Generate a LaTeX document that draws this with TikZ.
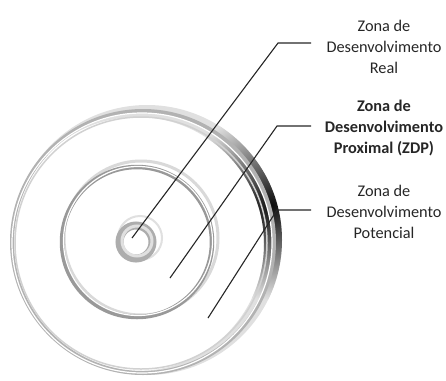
\documentclass[tikz,border=0pt]{standalone}
\usepackage{fontspec}
\setmainfont{Carlito}
\begin{document}
\begin{tikzpicture}[x=1pt,y=-1pt,
  lbl/.style={align=center,font=\fontsize{16.3}{21}\selectfont,text=black!85,inner sep=0pt},
  lead/.style={draw=black!85,line width=1.1pt}]
\useasboundingbox (0,0) rectangle (446,380);
% outer disc
\fill[white] (145,241) circle (134pt);
% shadow crescent on the right
\begin{scope}[even odd rule]
  \clip (147,240) circle (135pt) (137,244) circle (127pt);
  \fill[black!12] (147,240) circle (136pt);
  \shade[inner color=black!95,outer color=black!12] (272,205) circle (95pt);
\end{scope}
\draw[black!30,line width=4pt] (143,242) circle (131pt);
\draw[white,line width=1.2pt] (142,243) circle (130pt);
\draw[black!18,line width=1.5pt] (141,243) circle (126pt);
% middle ring
\draw[black!15,line width=3pt] (141,238) circle (77pt);
\draw[black!40,line width=4.5pt] (137,242) circle (75pt);
\draw[white,line width=1.2pt] (138,241) circle (74.5pt);
% inner ring
\draw[black!12,line width=2pt] (140,238) circle (22pt);
\draw[black!32,line width=8pt] (136,242) circle (16.5pt);
\draw[black!12,line width=3pt] (137,241) circle (15pt);
% labels
\node[lbl] (t1) at (384,46.5) {Zona de\\Desenvolvimento\\Real};
\node[lbl,font=\fontsize{16.3}{21}\selectfont\bfseries] (t2) at (384,128) {Zona de\\Desenvolvimento\\Proximal (ZDP)};
\node[lbl] (t3) at (384,212) {Zona de\\Desenvolvimento\\Potencial};
% connectors
\coordinate (s1) at (132,238); \coordinate (b1) at (278,43); \coordinate (e1) at (311,43);
\coordinate (s2) at (170,278); \coordinate (b2) at (277,126); \coordinate (e2) at (311,126);
\coordinate (s3) at (208,318); \coordinate (b3) at (277,210); \coordinate (e3) at (311,210);
\draw[lead] (s1) -- (b1) -- (e1);
\draw[lead] (s2) -- (b2) -- (e2);
\draw[lead] (s3) -- (b3) -- (e3);
\end{tikzpicture}
\end{document}
